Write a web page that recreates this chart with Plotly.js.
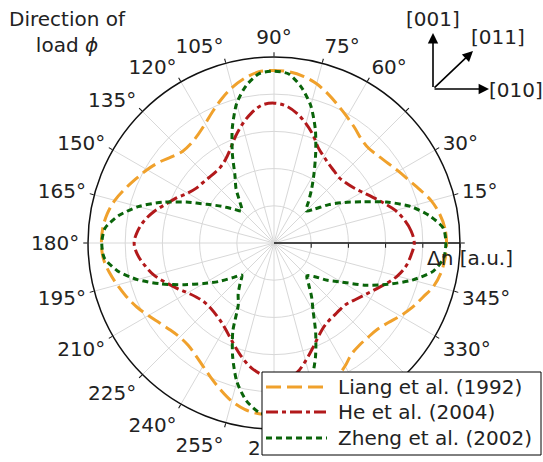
<!DOCTYPE html>
<html>
<head>
<meta charset="utf-8">
<script src="https://cdn.plot.ly/plotly-3.0.1.min.js"></script>
<style>html,body{margin:0;padding:0;background:#fff;}#chart{width:543px;height:462px;}</style>
</head>
<body>
<div id="chart"></div>
<script>
// Angles of load direction (degrees)
var thetaDeg = [0,5,10,15,20,25,30,35,40,45,50,55,60,65,70,75,80,85,90,
  95,100,105,110,115,120,125,130,135,140,145,150,155,160,165,170,175,180,
  185,190,195,200,205,210,215,220,225,230,235,240,245,250,255,260,265,270,
  275,280,285,290,295,300,305,310,315,320,325,330,335,340,345,350,355,360];

// Liang et al. (1992)
var liangR = [4.64,4.61,4.52,4.38,4.18,4.00,3.86,3.74,3.65,3.60,3.65,3.78,3.92,4.08,4.26,4.43,4.55,4.62,4.64,
  4.62,4.50,4.33,4.12,3.90,3.70,3.56,3.48,3.48,3.60,3.78,3.94,4.09,4.26,4.43,4.55,4.62,4.64,
  4.61,4.50,4.36,4.22,4.07,3.90,3.75,3.64,3.58,3.59,3.68,3.82,4.00,4.20,4.40,4.54,4.61,4.63,
  4.60,4.52,4.38,4.20,4.00,3.82,3.64,3.58,3.58,3.62,3.74,3.92,4.10,4.26,4.45,4.56,4.62,4.64];

// He et al. (2004)
var heR = [3.77,3.70,3.56,3.38,3.14,2.92,2.74,2.60,2.52,2.48,2.52,2.58,2.68,2.82,3.08,3.32,3.54,3.70,3.76,
  3.72,3.54,3.30,3.04,2.78,2.60,2.50,2.47,2.48,2.51,2.56,2.68,2.88,3.08,3.32,3.53,3.68,3.76,
  3.68,3.52,3.34,3.10,2.88,2.68,2.54,2.46,2.44,2.47,2.53,2.64,2.80,3.00,3.22,3.42,3.56,3.66,
  3.66,3.54,3.28,3.02,2.80,2.64,2.56,2.53,2.52,2.55,2.66,2.80,2.98,3.20,3.43,3.60,3.70,3.77];

// Zheng et al. (2002)
var zhengR = [4.62,4.57,4.24,3.80,3.22,2.62,2.18,1.80,1.42,1.22,1.44,1.76,2.15,2.65,3.25,3.82,4.25,4.56,4.62,
  4.57,4.30,3.88,3.28,2.65,2.10,1.78,1.42,1.22,1.42,1.72,2.08,2.60,3.20,3.78,4.24,4.56,4.63,
  4.58,4.28,3.80,3.22,2.65,2.18,1.80,1.45,1.22,1.42,1.68,1.92,2.62,3.25,3.86,4.30,4.57,4.63,
  4.57,4.28,3.85,3.26,2.65,2.10,1.76,1.45,1.25,1.40,1.75,2.10,2.68,3.25,3.85,4.35,4.58,4.62];

var seriesNames = ['Liang et al. (1992)', 'He et al. (2004)', 'Zheng et al. (2002)'];
var seriesColors = ['#f0a12c', '#b2191b', '#0a640a'];
var seriesDash = ['15px,6px', '12px,4px,4px,4px', '6px,4px'];
var seriesR = [liangR, heR, zhengR];

// angular tick labels (0°, 45° and those hidden by the key are blank)
var angTickVals = [0,15,30,45,60,75,90,105,120,135,150,165,180,195,210,225,240,255,270,285,300,315,330,345];
var angTickText = ['','15°','30°','','60°','75°','90°','105°','120°','135°','150°','165°','180°','195°','210°','225°','240°','255°','','','','','330°','345°'];

var FONT = 'DejaVu Sans, sans-serif';

var traces = seriesR.map(function(rv, i){
  return {type:'scatterpolar', mode:'lines', r:rv, theta:thetaDeg, name:seriesNames[i],
    line:{color:seriesColors[i], width:3, dash:seriesDash[i], shape:'spline', smoothing:(i===2?0.7:1)}};
});

function arrow(tipX, tipY, ax, ay){
  return {xref:'paper', yref:'paper', x:tipX/543, y:1-tipY/462, text:' ', font:{size:1},
    showarrow:true, ax:ax, ay:ay, arrowhead:2, arrowsize:1.3, arrowwidth:1.6, arrowcolor:'#000', standoff:0, startstandoff:0};
}
function label(txt, cx, cy, anchor){
  return {xref:'paper', yref:'paper', x:cx/543, y:1-cy/462, xanchor:anchor||'center', yanchor:'middle',
    text:txt, showarrow:false, font:{family:FONT, size:20, color:'#222'}};
}

// legend drawn as a boxed key
var legBox = {x0:262, x1:541, y0:372, y1:455};
var legRowsY = [387, 412, 438];
var shapes = [{type:'rect', xref:'paper', yref:'paper', layer:'above',
  x0:legBox.x0/543, x1:legBox.x1/543, y0:1-legBox.y1/462, y1:1-legBox.y0/462,
  fillcolor:'#fff', line:{color:'#000', width:1}}];
var annotations = [
  label('Direction of<br>load <i>ϕ</i>', 67, 32),
  label('Δn [a.u.]', 470, 258),
  arrow(433, 33, 0, 56),
  arrow(489, 89, -56, 0),
  arrow(473, 51, -40, 38),
  label('[001]', 433, 19),
  label('[011]', 498, 37),
  label('[010]', 516, 90),
  // visible part of the 270° label, the rest is behind the key
  label('2', 263, 448, 'right')
];
seriesNames.forEach(function(nm, i){
  shapes.push({type:'line', xref:'paper', yref:'paper', layer:'above',
    x0:266/543, x1:327/543, y0:1-legRowsY[i]/462, y1:1-legRowsY[i]/462,
    line:{color:seriesColors[i], width:3, dash:seriesDash[i]}});
  annotations.push(label(nm, 336, legRowsY[i], 'left'));
});

var layout = {
  width:543, height:462,
  margin:{l:0, r:0, t:0, b:0, pad:0, autoexpand:false},
  paper_bgcolor:'#fff',
  font:{family:FONT, size:20, color:'#222'},
  showlegend:false,
  polar:{
    domain:{x:[88/543, 460/543], y:[33/462, 405/462]},
    bgcolor:'#fff',
    radialaxis:{range:[0,5], tickvals:[1,2,3,4,5], showticklabels:false, angle:0,
      showline:true, linecolor:'#111', linewidth:1.5, ticks:'outside', ticklen:4, tickcolor:'#111',
      gridcolor:'#d8d8d8', gridwidth:1, layer:'below traces'},
    angularaxis:{rotation:0, direction:'counterclockwise', tickmode:'array',
      tickvals:angTickVals, ticktext:angTickText,
      showline:true, linecolor:'#111', linewidth:1.5, ticks:'outside', ticklen:4, tickcolor:'#111',
      gridcolor:'#d8d8d8', gridwidth:1, tickfont:{family:FONT, size:20, color:'#222'}, layer:'below traces'}
  },
  shapes:shapes,
  annotations:annotations
};

Plotly.newPlot('chart', traces, layout, {displayModeBar:false, staticPlot:true});
</script>
</body>
</html>
